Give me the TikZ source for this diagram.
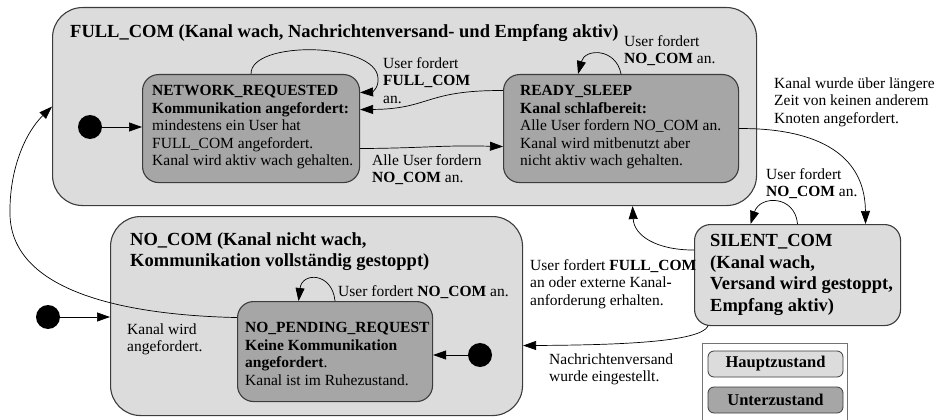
\documentclass[tikz,border=0pt]{standalone}
\usepackage{fontspec}
\setmainfont{Liberation Serif}
\usetikzlibrary{arrows.meta}
\definecolor{hauptgrau}{RGB}{220,220,220}
\definecolor{untergrau}{RGB}{166,166,166}
\definecolor{randgrau}{RGB}{60,60,60}
\begin{document}
\begin{tikzpicture}[x=1pt,y=-1pt,
  mainbox/.style={draw=randgrau, fill=hauptgrau, line width=1.1pt, rounded corners=30pt, inner sep=0, anchor=north west},
  subbox/.style={draw=randgrau, fill=untergrau, line width=1.1pt, rounded corners=16pt, inner sep=0, anchor=north west},
  startdot/.style={circle, fill=black, minimum size=24pt, inner sep=0},
  trans/.style={line width=0.7pt, -{Triangle[length=13pt,width=9pt]}},
  body/.style={inner sep=0, anchor=north west, align=left, font=\fontsize{15.5}{17.5}\selectfont, execute at begin node=\strut},
  heading/.style={inner sep=0, anchor=north west, align=left, font=\bfseries\fontsize{18.5}{21.5}\selectfont, execute at begin node=\strut},
  legendbox/.style={draw=randgrau, line width=0.8pt, rounded corners=6pt, minimum width=135pt, minimum height=26pt, inner sep=0, font=\bfseries\fontsize{16.5}{19}\selectfont},
]
\useasboundingbox (0,0) rectangle (938,420);

% main states and sub states
\node[mainbox, minimum width=704pt, minimum height=198pt] (full) at (52,7) {};
\node[mainbox, minimum width=412pt, minimum height=199pt] (nocom) at (110,216) {};
\node[mainbox, rounded corners=16pt, minimum width=206pt, minimum height=101pt] (sc) at (694,224) {};
\node[subbox, minimum width=217pt, minimum height=108pt] (nr) at (142,74) {};
\node[subbox, minimum width=235pt, minimum height=108pt] (rs) at (503,74) {};
\node[subbox, minimum width=195pt, minimum height=100pt] (npr) at (237,301) {};

% initial states
\node[startdot] (dotA) at (90,127) {};
\node[startdot] (dotB) at (480,355) {};
\node[startdot] (dotC) at (48,317) {};

% legend
\node[draw=black!55, fill=white, line width=0.8pt, minimum width=145pt, minimum height=90pt, inner sep=0, anchor=north west] (legend) at (702,343) {};
\node[legendbox, fill=hauptgrau] (lh) at (775.5,364) {Hauptzustand};
\node[legendbox, fill=untergrau] (lu) at (775.5,400) {Unterzustand};

% transitions
\draw[trans] (dotA) -- (nr.west |- dotA);
\draw[trans] (dotB) -- (npr.east |- dotB);
\draw[trans] (dotC) -- (nocom.west |- dotC);
\draw[trans] (nr.north) .. controls (250,40) and (376,42) .. (378,78) .. controls (379,88) and (372,92) .. ([yshift=36pt]nr.east);
\draw[trans] ([yshift=38pt]rs.west) .. controls (425,90) and (430,109) .. ([yshift=19pt]nr.east);
\draw[trans] ([yshift=-20pt]nr.east) .. controls (430,148) and (440,145) .. ([yshift=-18pt]rs.west);
\draw[trans] (rs.north) .. controls (616,48) and (585,48) .. ([xshift=-43pt]rs.north);
\draw[trans] (rs.east) .. controls (810,128) and (865,150) .. ([xshift=68pt]sc.north);
\draw[trans] (sc.north) .. controls (795,195) and (760,195) .. ([xshift=-47pt]sc.north);
\draw[trans] ([yshift=25pt]sc.west) .. controls (655,250) and (634,235) .. ([xshift=228pt]full.south);
\draw[trans] ([xshift=14pt]sc.south west) .. controls (700,342) and (620,345) .. ([yshift=-29.5pt]nocom.east);
\draw[trans] (npr.north) .. controls (332,272) and (302,272) .. ([xshift=-36.5pt]npr.north);
\draw[trans] ([yshift=34pt]npr.west) .. controls (120,315) and (12,290) .. (10,215) .. controls (9,170) and (25,133) .. (full.west);

% state texts
\node[heading] (tfull) at (70,22) {FULL\_COM (Kanal wach, Nachrichtenversand- und Empfang aktiv)};
\node[heading] (tnocom) at (130,232) {NO\_COM (Kanal nicht wach,\\Kommunikation vollständig gestoppt)};
\node[heading] (tsc) at (710,234.5) {SILENT\_COM\\(Kanal wach,\\Versand wird gestoppt,\\Empfang aktiv)};
\node[body] (tnr) at (152,85.25) {\textbf{NETWORK\_REQUESTED}\\\textbf{Kommunikation angefordert:}\\mindestens ein User hat\\FULL\_COM angefordert.\\Kanal wird aktiv wach gehalten.};
\node[body] (trs) at (520,85.25) {\textbf{READY\_SLEEP}\\\textbf{Kanal schlafbereit:}\\Alle User fordern NO\_COM an.\\Kanal wird mitbenutzt aber\\nicht aktiv wach gehalten.};
\node[body] (tnpr) at (245,322.25) {\textbf{NO\_PENDING\_REQUEST}\\\textbf{Keine Kommunikation}\\\textbf{angefordert}.\\Kanal ist im Ruhezustand.};

% transition labels
\node[body] (lnrloop) at (383,57.25) {User fordert\\\textbf{FULL\_COM}\\an.};
\node[body] (lnrrs) at (372,154.25) {Alle User fordern\\\textbf{NO\_COM} an.};
\node[body] (lrsloop) at (624,35.25) {User fordert\\\textbf{NO\_COM} an.};
\node[body] (lrssc) at (774,77.25) {Kanal wurde über längere\\Zeit von keinen anderem\\Knoten angefordert.};
\node[body] (lscloop) at (766,168.25) {User fordert\\\textbf{NO\_COM} an.};
\node[body] (lscfull) at (530,259.25) {User fordert \textbf{FULL\_COM}\\an oder externe Kanal\textbf{-}\\anforderung erhalten.};
\node[body] (lscno) at (549,353.25) {Nachrichtenversand\\wurde eingestellt.};
\node[body] (lnprloop) at (338,284.25) {User fordert \textbf{NO\_COM} an.};
\node[body] (lnprnr) at (127,323.25) {Kanal wird\\angefordert.};
\end{tikzpicture}
\end{document}
